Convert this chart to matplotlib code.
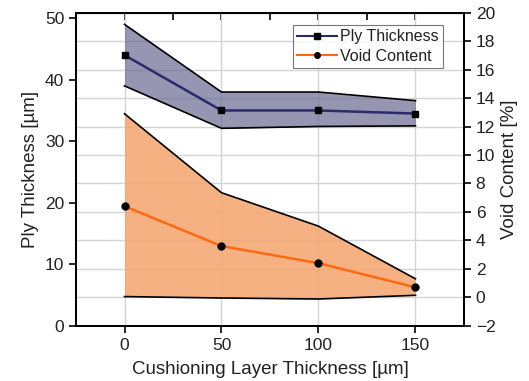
import matplotlib.pyplot as plt

plt.rcParams['font.family'] = ['Liberation Sans', 'DejaVu Sans']
plt.rcParams['text.color'] = '#222222'
plt.rcParams['axes.labelcolor'] = '#222222'
plt.rcParams['xtick.labelcolor'] = '#222222'
plt.rcParams['ytick.labelcolor'] = '#222222'

# data
cushion = [0, 50, 100, 150]
ply = [44.0, 35.0, 35.0, 34.5]
ply_hi = [49.0, 38.0, 38.0, 36.6]
ply_lo = [39.0, 32.1, 32.4, 32.5]
void = [6.4, 3.6, 2.4, 0.7]
void_hi = [12.9, 7.35, 5.0, 1.3]
void_lo = [0.05, -0.05, -0.12, 0.14]

fig = plt.figure(figsize=(5.29, 3.81), dpi=100)
ax = fig.add_axes([0.1437, 0.145, 0.7333, 0.8217])
ax2 = ax.twinx()

# right axis carries the horizontal grid, drawn under the data
ax.set_zorder(ax2.get_zorder() + 1)
ax.patch.set_visible(False)
ax2.set_ylim(-2, 20)
ax2.set_yticks(range(-2, 21, 2))
ax2.yaxis.grid(True, color='#d4d4d4', lw=1)
ax2.set_axisbelow(True)
ax.xaxis.grid(True, color='#d4d4d4', lw=1)
ax.set_axisbelow(True)

# ply thickness band
ax.fill_between(cushion, ply_lo, ply_hi, color='#6a6a92', alpha=0.7, lw=0)
ax.plot(cushion, ply_hi, color='black', lw=1.2)
ax.plot(cushion, ply_lo, color='black', lw=1.2)
l1, = ax.plot(cushion, ply, color='#2b2b6b', lw=1.8, marker='s', ms=5,
              mfc='black', mec='black', label='Ply Thickness')

# void content band (right axis scale, drawn on left axes)
def to_left(v):
    return [(x + 2) / 22 * 50.9 for x in v]

ax.fill_between(cushion, to_left(void_lo), to_left(void_hi), color='#f4a46c', alpha=0.85, lw=0)
ax.plot(cushion, to_left(void_hi), color='black', lw=1.2)
ax.plot(cushion, to_left(void_lo), color='black', lw=1.2)
l2, = ax.plot(cushion, to_left(void), color='#ff6a10', lw=1.8, marker='o', ms=5,
              mfc='black', mec='black', label='Void Content')

ax.set_xlim(-25, 175)
ax.set_ylim(0, 50.9)
ax.set_xticks(cushion)
ax.set_yticks(range(0, 51, 10))

ax.tick_params(axis='y', direction='out', length=5, width=1.2, labelsize=12.5, right=False)
ax.tick_params(axis='x', which='major', direction='out', length=5, width=1.2,
               labelsize=12.5, bottom=True, top=False)
# inward ticks along the top spine
ax.secondary_xaxis('top').tick_params(direction='in', length=5, width=1.2, labeltop=False)
ax2.tick_params(axis='y', direction='out', length=5, width=1.2, labelsize=12.5)
for a in (ax, ax2):
    for s in a.spines.values():
        s.set_linewidth(1.4)

ax.set_xlabel('Cushioning Layer Thickness [µm]', fontsize=13.5, labelpad=6)
ax.set_ylabel('Ply Thickness [µm]', fontsize=13.5)
ax2.set_ylabel('Void Content [%]', fontsize=13.5)

leg = ax.legend(handles=[l1, l2], loc='upper right', fontsize=11.5, frameon=True,
                fancybox=False, edgecolor='#555555', borderpad=0.25, markerscale=0.8,
                handlelength=2.5, handletextpad=0.2, labelspacing=0.3,
                bbox_to_anchor=(0.945, 0.96), borderaxespad=0)
leg.get_frame().set_linewidth(0.8)
for h in leg.get_lines():
    h.set_linewidth(1.5)

fig.savefig('out.png', dpi=100)
